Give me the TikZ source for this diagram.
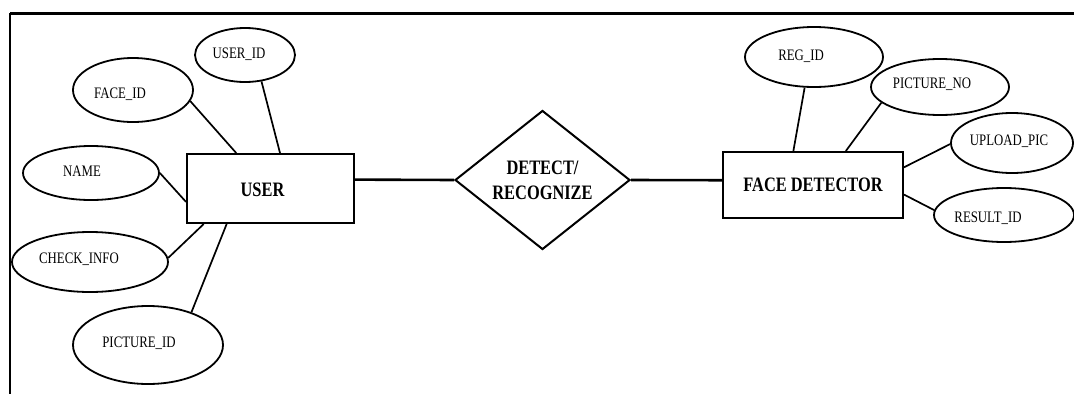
\documentclass[tikz,border=0pt]{standalone}
\usepackage{fontspec}
\setmainfont{Liberation Serif}[FakeStretch=0.8]
\usetikzlibrary{shapes.geometric}
\begin{document}
\begin{tikzpicture}[x=1pt,y=-1pt,
  attr/.style={ellipse,draw,line width=1.8pt,inner sep=0pt},
  lbl/.style={font=\fontsize{16}{18}\selectfont,inner sep=0pt},
  ent/.style={rectangle,draw,line width=2pt,inner sep=0pt,font=\fontsize{20.5}{22}\selectfont\bfseries},
  rel/.style={diamond,draw,line width=2pt,inner sep=0pt,align=center,font=\fontsize{20.5}{25}\selectfont\bfseries},
  link/.style={line width=1.7pt},
  mainlink/.style={line width=2.6pt}]
\useasboundingbox (0,0) rectangle (1074,394);
% frame
\draw[line width=3pt] (10,13) -- (1074,13);
\draw[line width=2pt] (10,13) -- (10,394);
% entities and relation
\node[ent,minimum width=167pt,minimum height=69pt,label={[ent,draw=none,xshift=-8pt,yshift=-1.5pt]center:USER}] (user) at (270.5,188.5) {};
\node[ent,minimum width=180pt,minimum height=66pt] (fd) at (813,185) {FACE DETECTOR};
\node[rel,minimum width=175pt,minimum height=105pt] (rel) at (542.5,180) {DETECT/\\RECOGNIZE};
% attributes of USER
\node[attr,minimum width=100pt,minimum height=54pt,label={[lbl,xshift=-6pt,yshift=1pt]center:USER\_ID}] (userid) at (245,55) {};
\node[attr,minimum width=120pt,minimum height=64pt,label={[lbl,xshift=-13pt,yshift=-4pt]center:FACE\_ID}] (faceid) at (133,90) {};
\node[attr,minimum width=136pt,minimum height=54pt,label={[lbl,xshift=-9pt,yshift=2pt]center:NAME}] (name) at (91,173) {};
\node[attr,minimum width=156pt,minimum height=60pt,label={[lbl,xshift=-11pt,yshift=3pt]center:CHECK\_INFO}] (checkinfo) at (90,262) {};
\node[attr,minimum width=150pt,minimum height=78pt,label={[lbl,xshift=-9pt,yshift=2pt]center:PICTURE\_ID}] (pictureid) at (148,345) {};
% attributes of FACE DETECTOR
\node[attr,minimum width=138pt,minimum height=60pt,label={[lbl,xshift=-13pt,yshift=1pt]center:REG\_ID}] (regid) at (814,57) {};
\node[attr,minimum width=138pt,minimum height=56pt,label={[lbl,xshift=-8pt,yshift=3pt]center:PICTURE\_NO}] (pictureno) at (940,87) {};
\node[attr,minimum width=122pt,minimum height=60pt,label={[lbl,xshift=-3pt,yshift=2pt]center:UPLOAD\_PIC}] (uploadpic) at (1012,143) {};
\node[attr,minimum width=140pt,minimum height=54pt,label={[lbl,xshift=-16pt,yshift=-3pt]center:RESULT\_ID}] (resultid) at (1004,215) {};
% connectors
\draw[link] (userid.-58) -- (user.75);
\draw[link] (faceid.-11) -- (user.134);
\draw[link] (name.0) -- (user.189);
\draw[link] (checkinfo.3) -- (user.208.5);
\draw[link] (pictureid.37) -- (user.219);
\draw[mainlink] (user.6) -- (rel.west);
\draw[mainlink] (rel.east) -- (fd.177);
\draw[link] (regid.253) -- (fd.120);
\draw[link] (pictureno.195) -- (fd.46);
\draw[link] (uploadpic.181) -- (fd.11);
\draw[link] (resultid.176) -- (fd.-6);
\end{tikzpicture}
\end{document}
